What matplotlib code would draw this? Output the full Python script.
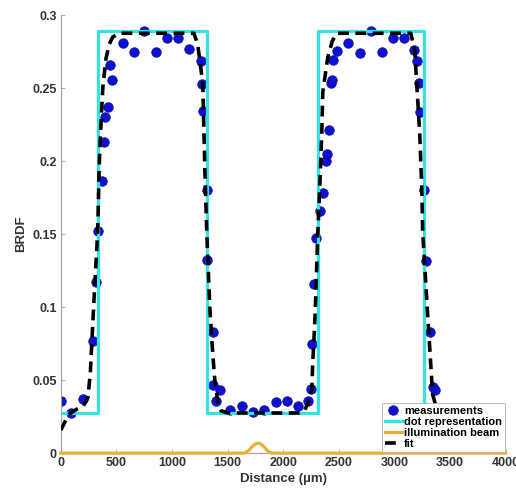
import matplotlib
matplotlib.use("Agg")
import matplotlib.pyplot as plt

plt.rcParams['font.family'] = ['Liberation Sans', 'DejaVu Sans']
plt.rcParams['font.weight'] = 'bold'

# measurements (distance in um, BRDF)
meas_x = [0, 90, 200, 285, 315, 330, 366, 386, 395, 420, 440, 456,
          560, 656, 750, 851, 950, 1054, 1154, 1258, 1266, 1274, 1313, 1315,
          1369, 1369, 1393, 1429, 1519, 1633, 1729, 1830, 1930, 2029, 2130,
          2223, 2247, 2262, 2278, 2298, 2328, 2358, 2385, 2394, 2409, 2427,
          2442, 2448, 2484, 2583, 2688, 2787, 2888, 2988, 3083, 3176, 3206,
          3221, 3227, 3263, 3281, 3317, 3347, 3362]
meas_y = [0.036, 0.0276, 0.0368, 0.077, 0.117, 0.152, 0.186, 0.213, 0.230,
          0.237, 0.266, 0.2555, 0.2806, 0.2744, 0.289, 0.2749, 0.284, 0.284,
          0.2765, 0.2685, 0.2527, 0.2342, 0.180, 0.132, 0.083, 0.0466, 0.036,
          0.043, 0.0295, 0.032, 0.0285, 0.0295, 0.035, 0.0356, 0.032, 0.036,
          0.0436, 0.075, 0.1155, 0.147, 0.1655, 0.178, 0.200, 0.205, 0.221,
          0.2537, 0.2555, 0.269, 0.2756, 0.281, 0.274, 0.289, 0.2749, 0.284,
          0.284, 0.276, 0.2685, 0.2532, 0.2338, 0.180, 0.1317, 0.0831, 0.045,
          0.0432]

# dot representation (step profile)
dot_x = [0, 330, 330, 1315, 1315, 2308, 2308, 3263, 3263, 3500]
dot_y = [0.0275, 0.0275, 0.2888, 0.2888, 0.0275, 0.0275, 0.2888, 0.2888,
         0.0275, 0.0275]

# illumination beam
beam_x = [0, 1650, 1690, 1720, 1750, 1772, 1795, 1825, 1855, 1895, 4000]
beam_y = [0, 0, 0.0018, 0.0045, 0.0064, 0.0068, 0.0064, 0.0045, 0.0018, 0, 0]

# fit
fit_x = [0, 40, 80, 140, 200, 243, 265, 279, 306, 330, 346, 362, 377, 405,
         435, 467, 530, 800, 1100, 1196, 1230, 1249, 1276, 1294, 1312, 1339,
         1362, 1384, 1411, 1440, 1500, 1800, 2150, 2190, 2220, 2256, 2265,
         2283, 2292, 2310, 2328, 2346, 2355, 2400, 2440, 2481, 2550, 2800,
         3100, 3146, 3182, 3200, 3227, 3245, 3254, 3290, 3335, 3344, 3380,
         3420, 3500]
fit_y = [0.0158, 0.022, 0.027, 0.030, 0.032, 0.038, 0.055, 0.077, 0.117,
         0.150, 0.200, 0.228, 0.250, 0.270, 0.280, 0.285, 0.2875, 0.2875,
         0.2875, 0.2875, 0.280, 0.269, 0.253, 0.196, 0.151, 0.100, 0.072,
         0.050, 0.035, 0.029, 0.0275, 0.0275, 0.0275, 0.029, 0.034, 0.043,
         0.0616, 0.089, 0.107, 0.150, 0.182, 0.219, 0.247, 0.271, 0.282,
         0.2875, 0.2875, 0.2875, 0.2875, 0.2875, 0.276, 0.253, 0.219, 0.182,
         0.151, 0.105, 0.050, 0.040, 0.030, 0.028, 0.0275]

fig = plt.figure(figsize=(5.16, 4.92), dpi=100)
ax = fig.add_axes([0.118, 0.079, 0.862, 0.8905])

ax.plot(meas_x, meas_y, 'o', color='#1010d0', markeredgecolor='#0c0ca0',
        markersize=6.8, markeredgewidth=0.6, label='measurements', zorder=2)
ax.plot(dot_x, dot_y, color='#33e3e3', lw=2.3, label='dot representation',
        zorder=3)
ax.plot(beam_x, beam_y, color='#e8b030', lw=2.3, label='illumination beam',
        zorder=3, clip_on=False)
ax.plot(fit_x, fit_y, color='black', lw=2.6, dashes=(3, 1.8), label='fit',
        zorder=4)

ax.set_xlim(0, 4000)
ax.set_ylim(0, 0.3)
ax.set_xticks(range(0, 4001, 500))
ax.set_yticks([0, 0.05, 0.1, 0.15, 0.2, 0.25, 0.3])
ax.set_yticklabels(['0', '0.05', '0.1', '0.15', '0.2', '0.25', '0.3'])

for s in ['top', 'right']:
    ax.spines[s].set_visible(False)
for s in ['left', 'bottom']:
    ax.spines[s].set_color('#a0a0a0')
    ax.spines[s].set_linewidth(0.8)
ax.tick_params(direction='in', length=3, width=0.6, color='#a0a0a0',
               labelsize=9, labelcolor='#333333', pad=3)

ax.set_xlabel('Distance (µm)', fontsize=9.5, fontweight='bold',
              color='#333333', labelpad=3)
ax.set_ylabel('BRDF', fontsize=9.5, fontweight='bold', color='#333333',
              labelpad=4)

leg = ax.legend(loc='lower right', fontsize=8, borderaxespad=0.1,
                labelspacing=0.1, handlelength=1.5, handletextpad=0.2,
                borderpad=0.25, fancybox=False, framealpha=1,
                edgecolor='#b0b0b0')
leg.get_frame().set_linewidth(0.6)

fig.savefig('out.png', dpi=100)
